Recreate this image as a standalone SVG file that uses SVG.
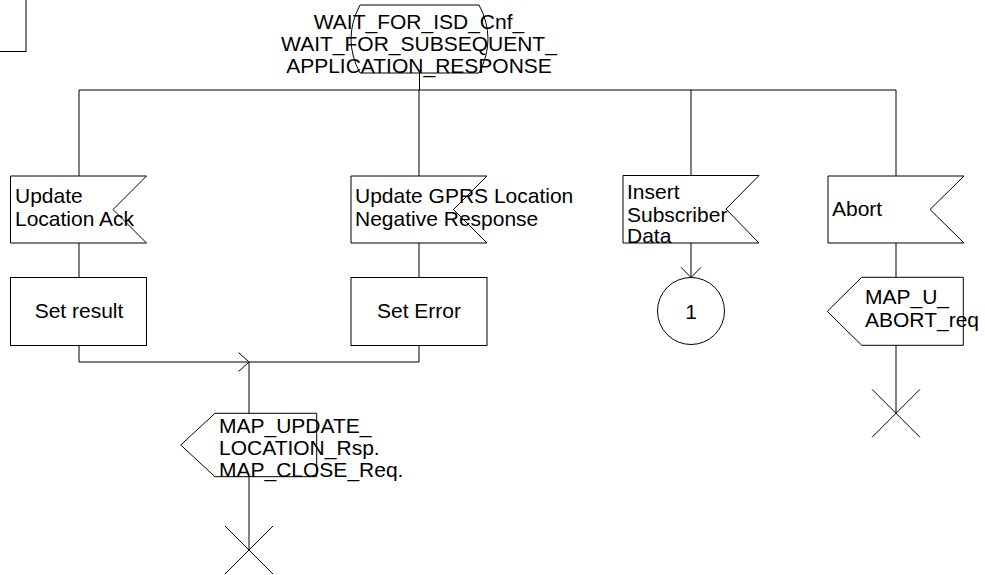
<svg xmlns="http://www.w3.org/2000/svg" width="985" height="575" viewBox="0 0 985 575">
<style>
.s{fill:none;stroke:#000;stroke-width:1}
.t{font-family:"Liberation Sans",Arial,sans-serif;font-size:21px;fill:#000}
.c{text-anchor:middle}
</style>
<rect width="985" height="575" fill="#fff"/>
<g id="frame"><rect class="s" x="-1" y="-1" width="27" height="52.5"/></g>
<g id="connectors">
<line class="s" x1="419.5" y1="73" x2="419.5" y2="90" stroke-width="2"/>
<line class="s" x1="79" y1="90" x2="896" y2="90"/>
<line class="s" x1="79" y1="90" x2="79" y2="176"/>
<line class="s" x1="419" y1="90" x2="419" y2="176"/>
<line class="s" x1="691" y1="90" x2="691" y2="175"/>
<line class="s" x1="896" y1="90" x2="896" y2="176"/>
<line class="s" x1="79" y1="243" x2="79" y2="277.5"/>
<line class="s" x1="419" y1="243" x2="419" y2="277.5"/>
<path class="s" d="M79 345.5V362H249M419 345.5V362H249"/>
<polyline class="s" points="238.5,352.5 249,362 238.5,371.5"/>
<line class="s" x1="249" y1="362" x2="249" y2="413.3" stroke-width="2"/>
<line class="s" x1="249" y1="476.7" x2="249" y2="550"/>
<line class="s" x1="691" y1="243" x2="691" y2="277.5"/>
<polyline class="s" points="681,267.3 691,277.5 701,267.3"/>
<line class="s" x1="896" y1="243" x2="896" y2="277.3"/>
<line class="s" x1="896" y1="345.3" x2="896" y2="413.3"/>
</g>
<g id="state">
<path class="s" d="M360 5H479Q497 39 479 73H360Q342 39 360 5Z"/>
<text class="t c" x="419" y="29.3">WAIT_FOR_ISD_Cnf_</text>
<text class="t c" x="419" y="50.7">WAIT_FOR_SUBSEQUENT_</text>
<text class="t c" x="419" y="72.7">APPLICATION_RESPONSE</text>
</g>
<g id="in_update_location_ack">
<polygon class="s" points="10.5,176 146.5,176 113,209.5 146.5,243 10.5,243"/>
<text class="t" x="15" y="203.3">Update</text>
<text class="t" x="15" y="225.7">Location Ack</text>
</g>
<g id="in_gprs_neg">
<polygon class="s" points="351,176 487,176 453.5,209.5 487,243 351,243"/>
<text class="t" x="355" y="203.3">Update GPRS Location</text>
<text class="t" x="355" y="225.7">Negative Response</text>
</g>
<g id="in_isd">
<polygon class="s" points="623,175.5 759,175.5 726,209 759,243 623,243"/>
<text class="t" x="627" y="198.5">Insert</text>
<text class="t" x="627" y="221.5">Subscriber</text>
<text class="t" x="627" y="243">Data</text>
</g>
<g id="in_abort">
<polygon class="s" points="828,176 964,176 930,209.5 964,243 828,243"/>
<text class="t" x="832" y="216">Abort</text>
</g>
<g id="task_set_result">
<rect class="s" x="10.5" y="277.5" width="136" height="68"/>
<text class="t c" x="79" y="317.5">Set result</text>
</g>
<g id="task_set_error">
<rect class="s" x="351" y="277.5" width="136" height="68"/>
<text class="t c" x="419" y="317.5">Set Error</text>
</g>
<g id="connector_1">
<circle class="s" cx="691" cy="311" r="33.5"/>
<text class="t c" x="691" y="318.5">1</text>
</g>
<g id="out_map_update">
<polygon class="s" points="215,413.3 316.7,413.3 316.7,476.7 215,476.7 180.7,445"/>
<text class="t" x="219" y="433.3">MAP_UPDATE_</text>
<text class="t" x="219" y="455">LOCATION_Rsp.</text>
<text class="t" x="219" y="476.7">MAP_CLOSE_Req.</text>
</g>
<g id="stop_1">
<path class="s" d="M225 526L273 574M273 526L225 574"/>
</g>
<g id="out_u_abort">
<polygon class="s" points="861.7,277.3 963.3,277.3 963.3,345.3 861.7,345.3 827.3,311.3"/>
<text class="t" x="865" y="304.3">MAP_U_</text>
<text class="t" x="865" y="327.3">ABORT_req</text>
</g>
<g id="stop_2">
<path class="s" d="M872 389.3L920 437.3M920 389.3L872 437.3"/>
</g>
</svg>
